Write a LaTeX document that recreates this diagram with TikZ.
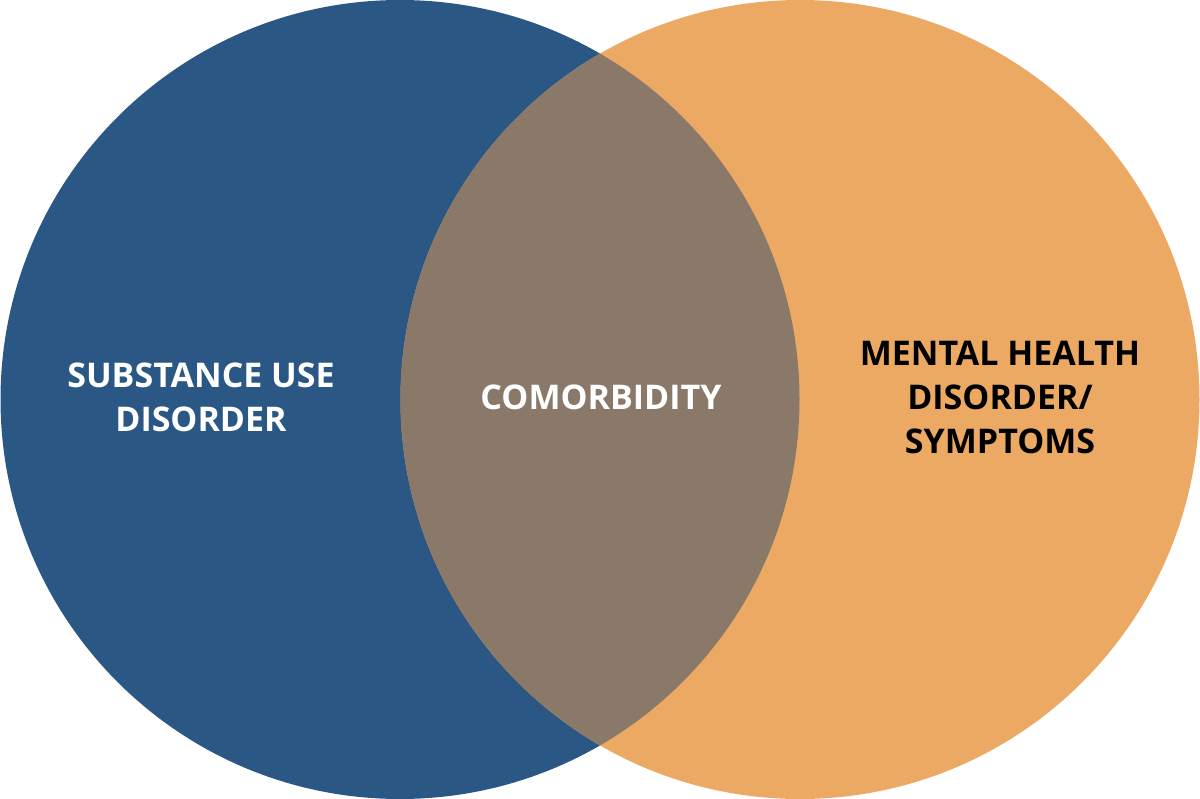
\documentclass[tikz,border=0pt]{standalone}
\usepackage{fontspec}
\setmainfont{Open Sans}
\definecolor{cblue}{HTML}{2B5784}
\definecolor{corange}{HTML}{ECA963}
\definecolor{cmid}{HTML}{8A7869}
\begin{document}
\begin{tikzpicture}[x=1pt,y=-1pt,
  lbl/.style={font=\bfseries\fontsize{34}{44}\selectfont,align=center}]
\useasboundingbox (0,0) rectangle (1200,799);
\fill[cblue] (400,399.5) circle (399.5);
\fill[corange] (800,399.5) circle (399.5);
\begin{scope}
\clip (400,399.5) circle (399.5);
\fill[cmid] (800,399.5) circle (399.5);
\end{scope}
\node[lbl,text=white] (sud) at (201,397) {SUBSTANCE USE\\DISORDER};
\node[lbl,text=white] (com) at (601,397) {COMORBIDITY};
\node[lbl,text=black] (mh) at (1000,397) {MENTAL HEALTH\\DISORDER/\\SYMPTOMS};
\end{tikzpicture}
\end{document}
